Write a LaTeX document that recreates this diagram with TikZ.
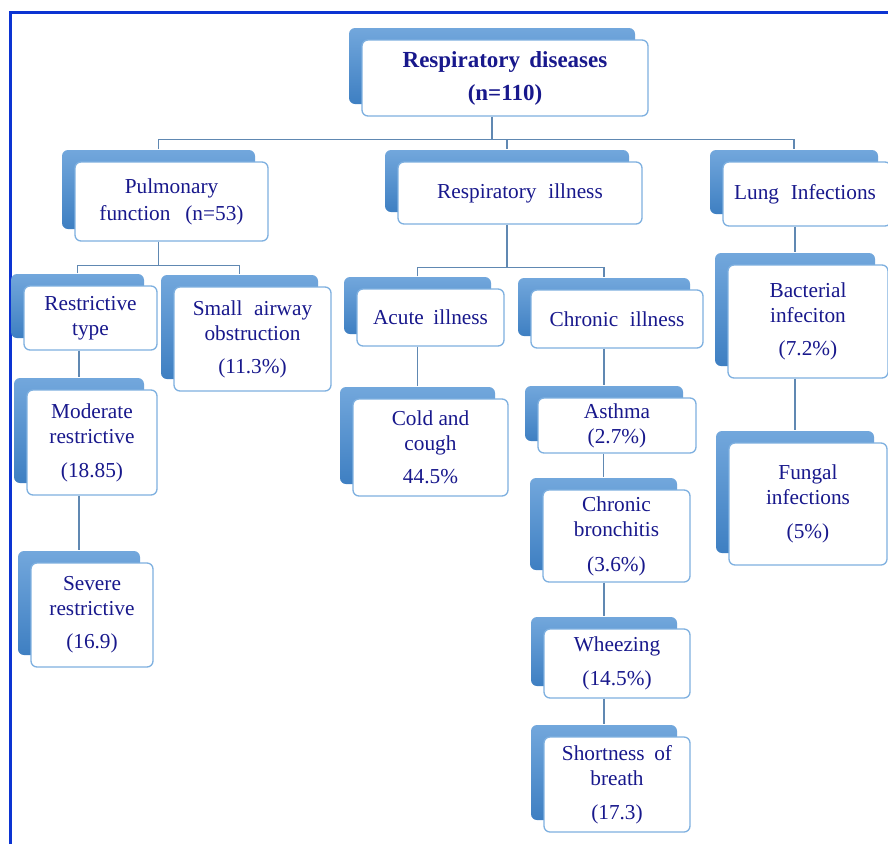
\documentclass[tikz,border=0pt]{standalone}
\usepackage{fontspec}
\setmainfont{Liberation Serif}
\usetikzlibrary{calc}
\definecolor{txtclr}{RGB}{24,24,140}
\definecolor{boxline}{RGB}{126,176,224}
\definecolor{shtop}{RGB}{114,167,220}
\definecolor{shbot}{RGB}{62,127,194}
\definecolor{lineclr}{RGB}{96,136,178}
\definecolor{frameclr}{RGB}{12,52,210}
\newcommand\nodefont{\fontsize{21.3}{25}\selectfont}
\newcommand\rootfont{\fontsize{23}{27}\selectfont\bfseries}
\tikzset{
  box/.style={draw=boxline, line width=1.3pt, rounded corners=6pt, fill=white,
    align=center, text=txtclr, inner sep=2pt, font=\nodefont,
    preaction={draw=none, top color=shtop, bottom color=shbot,
      transform canvas={shift={(-13pt,12pt)}}}},
  conn/.style={draw=lineclr, line width=1.2pt},
  frameline/.style={draw=frameclr, line width=3pt}
}
\begin{document}
\begin{tikzpicture}[x=1pt,y=-1pt]
\useasboundingbox (0,0) rectangle (888,844);
\fill[white] (0,0) rectangle (888,844);
\draw[frameline] (10.5,844) -- (10.5,12.5) -- (888,12.5);

% level 0
\node[box, minimum width=286pt, minimum height=76pt, font=\rootfont] (root) at (505,78)
  {Respiratory\hspace{.4em}diseases\\[6pt](n=110)};
% level 1
\node[box, minimum width=193pt, minimum height=79pt] (pulm) at (171.5,201.5)
  {Pulmonary\\[2pt]function\hspace{.7em}(n=53)};
\node[box, minimum width=244pt, minimum height=62pt] (resp) at (520,193)
  {Respiratory\hspace{.55em}illness};
\node[box, minimum width=168pt, minimum height=64pt] (lung) at (807,194)
  {\hspace*{-4pt}Lung\hspace{.55em}Infections};
% level 2
\node[box, minimum width=133pt, minimum height=64pt] (restr) at (90.5,318)
  {Restrictive\\type};
\node[box, minimum width=157pt, minimum height=104pt] (small) at (252.5,339)
  {Small\hspace{.55em}airway\\obstruction\\[8pt](11.3\%)};
\node[box, minimum width=147pt, minimum height=57pt] (acute) at (430.5,317.5)
  {Acute\hspace{.45em}illness};
\node[box, minimum width=172pt, minimum height=58pt] (chron) at (617,319)
  {Chronic\hspace{.55em}illness};
\node[box, minimum width=160pt, minimum height=113pt] (bact) at (808,321.5)
  {Bacterial\\infeciton\\[8pt](7.2\%)};
% level 3+
\node[box, minimum width=130pt, minimum height=105pt] (moder) at (92,442.5)
  {Moderate\\restrictive\\[9pt](18.85)};
\node[box, minimum width=122pt, minimum height=104pt] (severe) at (92,615)
  {Severe\\restrictive\\[8pt](16.9)};
\node[box, minimum width=155pt, minimum height=97pt] (cold) at (430.5,447.5)
  {Cold and\\cough\\[8pt]44.5\%};
\node[box, minimum width=158pt, minimum height=55pt] (asthma) at (617,425.5)
  {Asthma\\(2.7\%)};
\node[box, minimum width=147pt, minimum height=92pt] (bronch) at (616.5,536)
  {Chronic\\bronchitis\\[10pt](3.6\%)};
\node[box, minimum width=146pt, minimum height=69pt] (wheez) at (617,663.5)
  {Wheezing\\[9pt](14.5\%)};
\node[box, minimum width=146pt, minimum height=95pt] (short) at (617,784.5)
  {Shortness\hspace{.45em}of\\breath\\[9pt](17.3)};
\node[box, minimum width=158pt, minimum height=122pt] (fungal) at (808,504)
  {Fungal\\infections\\[9pt](5\%)};

% connection points: bottom of a box, top of its shaded back
\foreach \n in {root,pulm,resp,lung,restr,moder,acute,chron,asthma,bronch,wheez,bact}
  \coordinate (\n-b) at ([xshift=-13pt]\n.south);
\foreach \n in {pulm,resp,lung,restr,small,moder,severe,acute,chron,cold,asthma,bronch,wheez,short,bact,fungal}
  \coordinate (\n-t) at ([xshift=-13pt,yshift=12pt]\n.north);

% connectors
\draw[conn, line width=1.8pt] (root-b) -- ++(0,23) coordinate (b1);
\draw[conn] (pulm-t) |- (b1) -| (lung-t);
\draw[conn] (b1 -| resp-t) -- (resp-t);

\draw[conn] (pulm-b) -- ++(0,24) coordinate (b2);
\draw[conn] (restr-t) |- (b2) -| (small-t);

\draw[conn] (resp-b) -- ++(0,43) coordinate (b3);
\draw[conn] (acute-t) |- (b3) -| (chron-t);

\draw[conn] (restr.south -| moder-t) -- (moder-t);
\draw[conn] (moder.south -| severe-t) -- (severe-t);
\draw[conn] (acute.south -| cold-t) -- (cold-t);
\draw[conn] (chron.south -| asthma-t) -- (asthma-t);
\draw[conn] (asthma.south -| bronch-t) -- (bronch-t);
\draw[conn] (bronch.south -| wheez-t) -- (wheez-t);
\draw[conn] (wheez.south -| short-t) -- (short-t);
\draw[conn] (lung.south -| bact-t) -- (bact-t);
\draw[conn] (bact.south -| fungal-t) -- (fungal-t);
\end{tikzpicture}
\end{document}
